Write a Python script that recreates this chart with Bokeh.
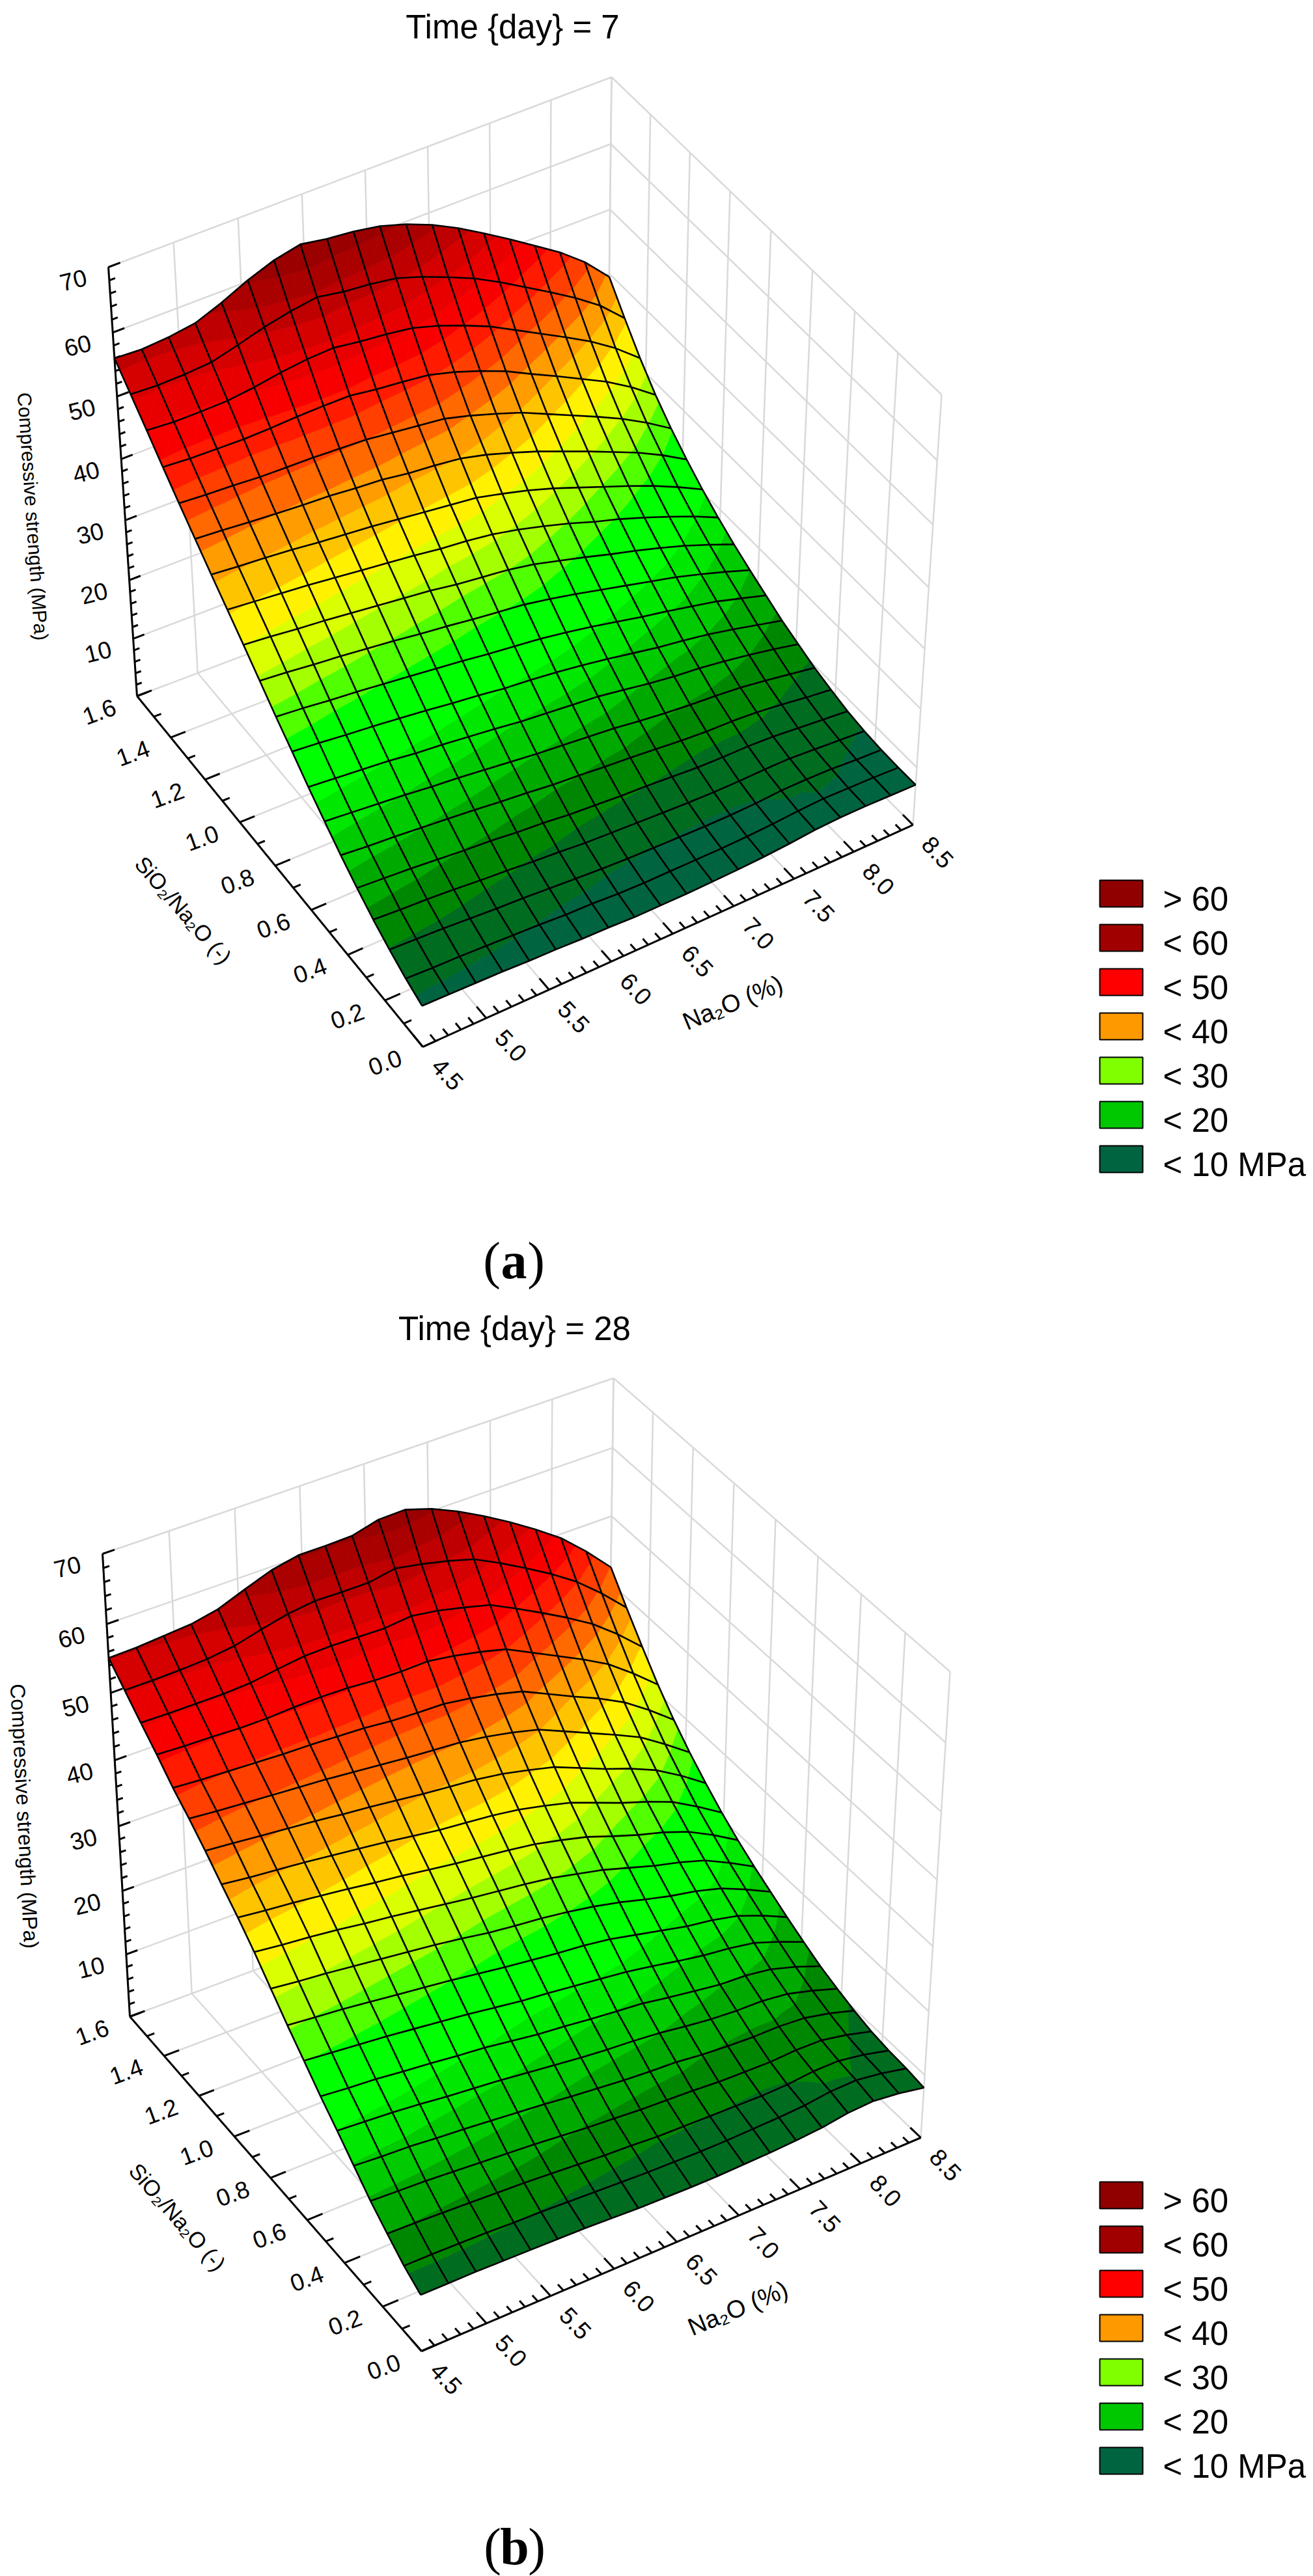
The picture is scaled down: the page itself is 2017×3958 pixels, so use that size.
import numpy as np
from bokeh.plotting import figure
from bokeh.models import Range1d, ColumnDataSource
from bokeh.core.properties import value
from bokeh.embed import file_html
from bokeh.resources import INLINE

Z_TICKS = [10, 20, 30, 40, 50, 60, 70]
Y_TICKS = [0.0, 0.2, 0.4, 0.6, 0.8, 1.0, 1.2, 1.4, 1.6]
X_TICKS = [4.5, 5.0, 5.5, 6.0, 6.5, 7.0, 7.5, 8.0, 8.5]
LEGEND = ["> 60", "< 60", "< 50", "< 40", "< 30", "< 20", "< 10 MPa"]
LEG_COL = ["#900000", "#a00000", "#ff0000", "#ff9900", "#80ff00", "#00c800", "#006440"]

# Compressive strength (MPa). Rows: SiO2/Na2O from 1.6 down to 0; columns: Na2O from 4.5 to 8.5 %.
DAY7 = [
[56.0,55.8,56.1,56.7,58.3,60.2,61.7,62.6,61.9,61.5,60.8,59.6,58.0,56.0,53.7,51.3,48.8,46.3,43.3,39.5],
[53.0,52.8,52.9,53.2,54.3,55.5,56.4,57.0,56.3,55.9,55.3,54.0,52.4,50.7,48.6,46.3,44.0,41.6,38.9,35.4],
[50.0,49.7,49.7,49.8,50.3,51.0,51.5,51.7,51.1,50.7,50.1,48.9,47.4,45.7,43.6,41.5,39.4,37.2,34.6,31.5],
[46.9,46.6,46.5,46.4,46.5,46.7,46.8,46.8,46.2,45.8,45.3,44.2,42.8,41.2,39.2,37.3,35.3,33.3,30.9,28.1],
[43.9,43.6,43.4,43.1,43.0,42.9,42.7,42.5,42.0,41.5,41.0,39.9,38.6,37.2,35.4,33.6,31.8,29.9,27.7,25.2],
[41.0,40.7,40.3,40.0,39.7,39.5,39.1,38.8,38.2,37.8,37.3,36.3,35.0,33.6,32.0,30.4,28.7,27.0,25.0,22.7],
[38.1,37.7,37.4,37.0,36.5,36.1,35.7,35.2,34.7,34.2,33.7,32.7,31.6,30.3,28.8,27.3,25.8,24.2,22.4,20.4],
[35.3,34.9,34.5,34.1,33.6,33.1,32.6,32.1,31.5,31.1,30.5,29.6,28.5,27.3,25.9,24.7,23.3,21.8,20.2,18.4],
[32.5,32.1,31.6,31.2,30.7,30.2,29.7,29.2,28.5,28.0,27.5,26.7,25.6,24.5,23.3,22.2,21.0,19.7,18.2,16.6],
[29.6,29.2,28.7,28.3,27.8,27.3,26.7,26.2,25.6,25.1,24.6,23.8,22.9,21.9,20.9,19.9,18.9,17.7,16.4,15.0],
[26.7,26.3,25.8,25.4,24.9,24.4,23.9,23.4,22.8,22.3,21.8,21.1,20.3,19.4,18.5,17.7,16.8,15.9,14.7,13.5],
[24.0,23.6,23.1,22.7,22.2,21.7,21.1,20.6,20.0,19.6,19.1,18.5,17.8,17.0,16.2,15.6,14.9,14.0,13.0,12.0],
[21.2,20.8,20.4,20.0,19.4,19.0,18.5,18.0,17.4,17.0,16.6,16.2,15.5,14.8,14.2,13.8,13.2,12.5,11.7,10.8],
[18.6,18.2,17.8,17.4,16.9,16.5,16.0,15.5,15.0,14.6,14.2,13.8,13.2,12.7,12.3,12.0,11.6,11.0,10.3,9.6],
[16.1,15.7,15.4,15.0,14.6,14.2,13.7,13.3,12.8,12.5,12.1,11.8,11.4,11.0,10.7,10.6,10.3,9.8,9.2,8.7],
[13.8,13.5,13.2,12.8,12.4,12.1,11.6,11.3,10.8,10.5,10.2,10.0,9.7,9.4,9.3,9.3,9.1,8.7,8.3,7.9],
[11.7,11.4,11.2,10.9,10.5,10.2,9.8,9.5,9.1,8.9,8.7,8.5,8.3,8.2,8.2,8.3,8.3,8.0,7.7,7.4],
[9.9,9.7,9.5,9.2,8.9,8.7,8.4,8.1,7.8,7.6,7.5,7.4,7.3,7.3,7.4,7.7,7.7,7.6,7.3,7.1],
[8.3,8.1,8.0,7.8,7.6,7.4,7.1,7.0,6.7,6.6,6.6,6.6,6.6,6.7,6.9,7.2,7.4,7.3,7.2,7.0],
[7.0,6.9,6.8,6.7,6.5,6.4,6.2,6.1,5.9,5.9,5.9,6.0,6.1,6.3,6.6,7.0,7.2,7.2,7.1,7.0],
]
DAY28 = [
[55.1,55.2,55.5,55.8,56.6,58.1,59.5,60.3,60.3,60.4,61.4,61.5,60.3,58.6,56.6,54.4,52.0,49.4,46.1,42.4],
[52.7,52.7,52.8,53.0,53.5,54.5,55.4,55.9,55.8,55.8,56.5,55.8,54.9,53.8,51.9,49.8,47.6,45.1,42.0,38.5],
[50.3,50.2,50.2,50.2,50.4,51.0,51.5,51.6,51.5,51.4,51.8,51.2,50.3,49.3,47.4,45.4,43.3,41.0,38.1,34.8],
[48.0,47.8,47.7,47.5,47.5,47.7,47.8,47.7,47.4,47.3,47.4,46.8,46.0,45.0,43.1,41.2,39.3,37.2,34.4,31.3],
[45.5,45.2,45.0,44.8,44.6,44.5,44.3,44.1,43.7,43.5,43.4,42.8,42.0,41.0,39.2,37.4,35.7,33.7,31.1,28.2],
[43.4,43.0,42.7,42.4,42.1,41.8,41.4,41.0,40.6,40.3,40.0,39.4,38.6,37.6,35.9,34.2,32.5,30.7,28.2,25.5],
[41.1,40.7,40.3,39.9,39.5,39.0,38.6,38.1,37.6,37.2,36.8,36.2,35.3,34.3,32.7,31.1,29.7,28.0,25.7,23.1],
[38.6,38.1,37.7,37.3,36.8,36.3,35.8,35.2,34.6,34.2,33.8,33.2,32.3,31.3,29.8,28.3,27.0,25.5,23.3,20.9],
[36.2,35.7,35.3,34.8,34.3,33.7,33.2,32.6,32.0,31.5,31.0,30.4,29.5,28.5,27.1,25.8,24.7,23.3,21.3,19.0],
[33.6,33.1,32.7,32.2,31.6,31.1,30.5,29.9,29.3,28.8,28.3,27.7,26.8,25.9,24.7,23.5,22.5,21.3,19.4,17.3],
[30.7,30.2,29.8,29.3,28.8,28.3,27.8,27.2,26.5,26.0,25.6,25.0,24.3,23.4,22.3,21.3,20.5,19.4,17.7,15.8],
[27.8,27.4,27.0,26.5,26.0,25.5,25.0,24.4,23.8,23.3,22.8,22.4,21.8,20.9,20.0,19.1,18.5,17.6,16.1,14.3],
[25.1,24.7,24.3,23.9,23.4,22.9,22.4,21.8,21.2,20.8,20.3,19.8,19.3,18.6,17.8,17.1,16.6,15.9,14.5,12.9],
[22.4,22.0,21.7,21.2,20.8,20.3,19.9,19.3,18.7,18.3,17.8,17.4,17.0,16.3,15.7,15.1,14.9,14.3,13.1,11.6],
[19.9,19.6,19.3,18.9,18.4,18.0,17.6,17.1,16.6,16.1,15.7,15.4,15.0,14.4,13.9,13.6,13.5,13.0,11.9,10.6],
[17.3,17.0,16.8,16.4,16.1,15.7,15.3,14.9,14.4,14.0,13.6,13.3,13.1,12.6,12.3,12.1,12.1,11.8,10.9,9.7],
[14.7,14.5,14.3,14.0,13.7,13.4,13.1,12.7,12.3,12.0,11.7,11.5,11.3,11.0,10.9,10.8,11.0,10.9,10.1,9.0],
[12.5,12.4,12.2,12.0,11.8,11.6,11.3,11.0,10.7,10.5,10.2,10.1,10.0,9.9,9.8,9.9,10.3,10.3,9.6,8.6],
[10.4,10.4,10.3,10.2,10.0,9.9,9.7,9.5,9.3,9.1,9.0,8.9,8.9,9.0,9.1,9.3,9.8,9.9,9.3,8.4],
[8.8,8.8,8.8,8.7,8.6,8.5,8.4,8.2,8.0,7.9,7.8,7.8,7.9,8.0,8.2,8.5,9.1,9.3,8.8,8.0],
]
ZA = np.array(DAY7); ZB = np.array(DAY28)

CAM_A = {(0,0,0):(649,1608),(1,0,0):(1402,1267),(0,1,0):(210,1069),(1,1,0):(931,795),(0,1,1):(166,410),(1,1,1):(939,118),(1,0,1):(1446,606)}
CAM_B = {(0,0,0):(647,3612),(1,0,0):(1414,3284),(0,1,0):(199,3098),(1,1,0):(932,2825),(0,1,1):(157,2387),(1,1,1):(942,2117),(1,0,1):(1459,2568)}

def camera(c):
    M=[];r=[]
    for (X,Y,Z),(u,v) in c.items():
        M.append([X,Y,Z,1,0,0,0,0,-u*X,-u*Y,-u*Z]);r.append(u)
        M.append([0,0,0,0,X,Y,Z,1,-v*X,-v*Y,-v*Z]);r.append(v)
    s=np.linalg.lstsq(np.array(M,float),np.array(r,float),rcond=None)[0]
    P=np.append(s,1).reshape(3,4)
    res={}
    for k,(u,v) in c.items():
        h=P@np.array([k[0],k[1],k[2],1.0])
        res[k]=(u-h[0]/h[2],v-h[1]/h[2])
    return P,res

def proj(Pr,x,y,z):
    P,res=Pr
    X=(np.asarray(x,float)-4.5)/4;Y=np.asarray(y,float)/1.6;Z=np.asarray(z,float)/70
    w=np.array([X,Y,Z,np.ones_like(X)])
    h=P@w
    u=h[0]/h[2];v=h[1]/h[2]
    for k,(du,dv) in res.items():
        wt=(X if k[0] else 1-X)*(Y if k[1] else 1-Y)*(Z if k[2] else 1-Z)
        u=u+du*wt;v=v+dv*wt
    return u,v

STOPS=[(0,(0,100,64)),(7,(0,100,64)),(8.3,(0,105,40)),(10,(0,120,10)),(11.6,(0,140,0)),(13.8,(0,170,0)),(16,(0,200,0)),(18.4,(0,228,0)),(21,(0,255,0)),(25,(0,255,0)),(27,(128,255,0)),(30,(190,255,0)),(33,(255,255,0)),(36,(255,200,0)),(39,(255,153,0)),(42,(255,90,0)),(46,(255,30,0)),(48,(255,0,0)),(53,(220,0,0)),(58,(175,0,0)),(62,(150,0,0)),(70,(144,0,0))]
def colour(z):
    zs=[s[0] for s in STOPS]
    c=[int(np.interp(z,zs,[s[1][k] for s in STOPS])) for k in range(3)]
    return "#%02x%02x%02x"%tuple(c)

def clip(poly,lev,keep_above):
    out=[]
    n=len(poly)
    for k in range(n):
        a=poly[k];b=poly[(k+1)%n]
        ina=(a[2]>=lev) if keep_above else (a[2]<=lev)
        inb=(b[2]>=lev) if keep_above else (b[2]<=lev)
        if ina: out.append(a)
        if ina!=inb:
            t=(lev-a[2])/(b[2]-a[2])
            out.append((a[0]+t*(b[0]-a[0]),a[1]+t*(b[1]-a[1]),lev))
    return out

FONT="Liberation Sans"
p=figure(width=2017,height=3958,x_range=Range1d(0,2017),y_range=Range1d(3958,0),toolbar_location=None,output_backend="svg",min_border=0,x_axis_type=None,y_axis_type=None)
p.grid.visible=False
p.outline_line_color=None

def label(x,y,t,size,deg,font=FONT,style="normal"):
    p.text([x],[y],text=[t],angle=[np.radians(deg)],text_font=value(font),text_font_size=value(f"{size}px"),text_align="center",text_baseline="middle",text_color="#000000",text_font_style=style)

STEP=2.5
def panel(Z,cam,title,title_xy,cap,cap_xy,leg_top,ztitle,zsize,zdeg,ytitle,xtitle):
    P=camera(cam)
    def seg(a,b):
        xa,ya=proj(P,[a[0],b[0]],[a[1],b[1]],[a[2],b[2]])
        return list(xa),list(ya)
    gx=[];gy=[]
    def add(a,b):
        s=seg(a,b);gx.append(s[0]);gy.append(s[1])
    for x in X_TICKS:
        add((x,0,0),(x,1.6,0)); add((x,1.6,0),(x,1.6,70))
    for y in Y_TICKS:
        add((4.5,y,0),(8.5,y,0)); add((8.5,y,0),(8.5,y,70))
    for z in Z_TICKS:
        add((4.5,1.6,z),(8.5,1.6,z)); add((8.5,1.6,z),(8.5,0,z))
    p.multi_line(gx,gy,line_color="#d9d9d9",line_width=2.5)
    ax=[];ay=[]
    for a,b in [((4.5,1.6,0),(4.5,1.6,70)),((4.5,1.6,0),(4.5,0,0)),((4.5,0,0),(8.5,0,0))]:
        s=seg(a,b);ax.append(s[0]);ay.append(s[1])
    for k in range(36):
        z=2.0*k
        l=.09 if k%5==0 else .045
        s=seg((4.5,1.6,z),(4.5+l,1.6,z));ax.append(s[0]);ay.append(s[1])
    for k in range(17):
        y=.1*k
        l=.12 if k%2==0 else .06
        s=seg((4.5,y,0),(4.5+l,y,0));ax.append(s[0]);ay.append(s[1])
    for k in range(41):
        x=4.5+.1*k
        l=.05 if k%5==0 else .028
        s=seg((x,0,0),(x,l,0));ax.append(s[0]);ay.append(s[1])
    p.multi_line(ax,ay,line_color="#000000",line_width=3)
    xg=np.linspace(4.5,8.5,20); yg=np.linspace(1.6,0,20)
    XX,YY=np.meshgrid(xg,yg)
    U,V=proj(P,XX.ravel(),YY.ravel(),Z.ravel())
    U=U.reshape(Z.shape);V=V.reshape(Z.shape)
    xs=[];ys=[];cs=[]
    for n in range(19):
        for i in range(18,-1,-1):
            q=[(U[n,i],V[n,i],Z[n,i]),(U[n,i+1],V[n,i+1],Z[n,i+1]),(U[n+1,i+1],V[n+1,i+1],Z[n+1,i+1]),(U[n+1,i],V[n+1,i],Z[n+1,i])]
            for tri in ([q[0],q[1],q[3]],[q[1],q[2],q[3]]):
                lo=min(t[2] for t in tri);hi=max(t[2] for t in tri)
                k=int(lo//STEP)
                while k*STEP<hi:
                    pl=clip(tri,k*STEP,True)
                    if pl: pl=clip(pl,(k+1)*STEP,False)
                    if len(pl)>=3:
                        xs.append([t[0] for t in pl]);ys.append([t[1] for t in pl]);cs.append(colour((k+.5)*STEP))
                    k+=1
    p.patches(xs="xs",ys="ys",fill_color="c",line_color="c",line_width=0.8,source=ColumnDataSource(dict(xs=xs,ys=ys,c=cs)))
    lx=[list(U[n,:]) for n in range(20)]+[list(U[:,i]) for i in range(20)]
    ly=[list(V[n,:]) for n in range(20)]+[list(V[:,i]) for i in range(20)]
    p.multi_line(lx,ly,line_color="#000000",line_width=2.6)
    for z in Z_TICKS:
        u,v=proj(P,[4.5],[1.6],[z]); label(u[0]-54,v[0]+20,str(z),37,14)
    for y in Y_TICKS:
        u,v=proj(P,[4.5],[y],[0]); label(u[0]-58,v[0]+24,f"{y:.1f}",37,20)
    for x in X_TICKS:
        u,v=proj(P,[x],[0],[0]); label(u[0]+38,v[0]+42,f"{x:.1f}",37,-47)
    label(*ztitle,"Compressive strength (MPa)",zsize,zdeg)
    label(*ytitle,"SiO\u2082/Na\u2082O (-)",34,-49)
    label(*xtitle,"Na\u2082O (%)",38,22.5)
    label(*title_xy,title,51,0)
    cx,cy=cap_xy
    label(cx-34,cy,"(",80,0,"Liberation Serif")
    label(cx,cy,cap,80,0,"Liberation Serif","bold")
    label(cx+34,cy,")",80,0,"Liberation Serif")
    for k,(t,c) in enumerate(zip(LEGEND,LEG_COL)):
        top=leg_top+68*k
        p.quad(left=[1689],right=[1755],top=[top],bottom=[top+41],fill_color=c,line_color="#000000",line_width=2)
        p.text([1786],[top+29],text=[t],text_font=value(FONT),text_font_size=value("51px"),text_align="left",text_baseline="middle",text_color="#000000")

panel(ZA,CAM_A,"Time {day} = 7",(787,41),"a",(789,1936),1352,(50,793),30,-86,(281,1398),(1125,1540))
panel(ZB,CAM_B,"Time {day} = 28",(790,2041),"b",(790,3912),3352,(37,2790),32,-87,(272,3406),(1133,3546))
open("out.html","w").write(file_html(p,INLINE))
